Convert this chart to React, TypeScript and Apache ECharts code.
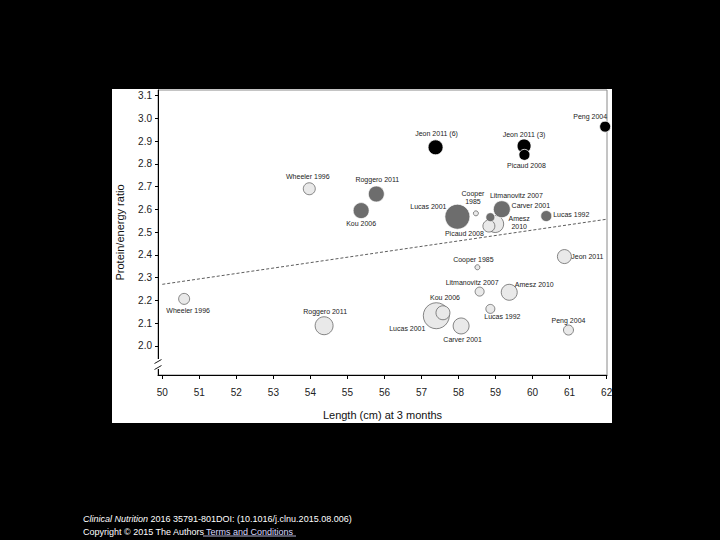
import React, { useEffect, useRef } from "react";
import * as echarts from "echarts";

// ---- tick values ----
const xTicks = [50, 51, 52, 53, 54, 55, 56, 57, 58, 59, 60, 61, 62];
const yTicks = [2.0, 2.1, 2.2, 2.3, 2.4, 2.5, 2.6, 2.7, 2.8, 2.9, 3.0, 3.1];

// ---- black studies ----
const blackStudies = ["Jeon 2011 (6)", "Jeon 2011 (3)", "Picaud 2008", "Peng 2004"];
const blackLength = [57.38, 59.77, 59.78, 61.96];
const blackRatio = [2.873, 2.879, 2.84, 2.964];
const blackSize = [15, 14, 11, 11];

// ---- dark grey studies ----
const darkStudies = ["Lucas 2001", "Carver 2001", "Roggero 2011", "Kou 2006", "Lucas 1992", "Litmanovitz 2007"];
const darkLength = [57.97, 59.17, 55.78, 55.37, 60.37, 58.86];
const darkRatio = [2.568, 2.601, 2.668, 2.595, 2.571, 2.566];
const darkSize = [25, 17, 16, 16, 11, 9];

// ---- light grey studies ----
const lightStudies = [
  "Lucas 2001", "Roggero 2011", "Amesz 2010", "Amesz 2010", "Carver 2001", "Kou 2006", "Jeon 2011",
  "Picaud 2008", "Wheeler 1996", "Wheeler 1996", "Peng 2004", "Lucas 1992", "Litmanovitz 2007",
  "Cooper 1985", "Cooper 1985",
];
const lightLength = [57.4, 54.37, 58.99, 59.37, 58.07, 57.58, 60.86, 58.82, 53.97, 50.59, 60.97, 58.86, 58.57, 58.47, 58.51];
const lightRatio = [2.133, 2.089, 2.536, 2.236, 2.088, 2.146, 2.393, 2.527, 2.691, 2.207, 2.07, 2.163, 2.239, 2.583, 2.346];
const lightSize = [26, 18, 17, 16, 16, 14, 14, 12, 12, 11, 10, 9, 9, 5, 5];

// ---- regression line ----
const trendLength = [50, 62];
const trendRatio = [2.271, 2.557];

// ---- label placement (styling) ----
const blackLabelOffset = [[1, -14], [0, -11], [2, 10.5], [-15, -10]];
const darkLabelOffset = [[-29, -10], [29, -4], [1, -14], [0, 13], [25, -2], [26, -22]];
const lightLabelOffset = [
  [-29, 12.5], [1, -14], [24, -2], [25, -8], [1.5, 13.3], [2, -15.6], [23, 0],
  [-24.5, 7], [-1.5, -12], [4, 12], [0, -10], [12, 8], [-7.5, -9.5], [-3, -16], [-4, -8],
];
const lightLabelWrap = [false, false, true, false, false, false, false, false, false, false, false, false, false, true, false];

const FONT = "'Liberation Sans', Arial, Helvetica, sans-serif";

function buildData(names: string[], xs: number[], ys: number[], sizes: number[], offsets: number[][], wrap?: boolean[]) {
  return names.map((n, i) => ({
    name: n,
    value: [xs[i], ys[i], sizes[i]],
    label: {
      show: true,
      position: "inside",
      offset: offsets[i],
      formatter: wrap && wrap[i] ? n.replace(" ", "\n") : n,
      fontSize: 7,
      lineHeight: 8,
      color: "#222",
      fontFamily: FONT,
    },
  }));
}

export default function App() {
  const ref = useRef<HTMLDivElement>(null);
  useEffect(() => {
    if (!ref.current) return;
    const chart = echarts.init(ref.current, undefined, { renderer: "svg" });
    const option: any = {
      animation: false,
      backgroundColor: "#000",
      grid: { left: 158, top: 90, width: 449, height: 285, show: true, borderColor: "#8a8a8a", borderWidth: 1 },
      xAxis: {
        type: "value",
        min: 49.884,
        max: 62.01,
        name: "Length (cm) at 3 months",
        nameLocation: "middle",
        nameGap: 34,
        nameTextStyle: { fontSize: 11, color: "#111", fontFamily: FONT },
        axisLine: { show: true, lineStyle: { color: "#000", width: 1 } },
        axisTick: { show: true, length: 4, customValues: xTicks, lineStyle: { color: "#000" } },
        axisLabel: { customValues: xTicks, fontSize: 10, color: "#222", margin: 12, fontFamily: FONT },
        splitLine: { show: false },
      },
      yAxis: {
        type: "value",
        min: 1.8725,
        max: 3.125,
        name: "Protein/energy ratio",
        nameLocation: "middle",
        nameGap: 33,
        nameTextStyle: { fontSize: 11, color: "#111", fontFamily: FONT },
        axisLine: { show: true, lineStyle: { color: "#000", width: 1 } },
        axisTick: { show: true, length: 3, customValues: yTicks, lineStyle: { color: "#000" } },
        axisLabel: {
          customValues: yTicks,
          formatter: (v: number) => v.toFixed(1),
          fontSize: 10,
          color: "#222",
          margin: 6,
          fontFamily: FONT,
        },
        splitLine: { show: false },
      },
      graphic: [
        { type: "rect", z: -100, shape: { x: 112, y: 89, width: 500, height: 334 }, style: { fill: "#fff" } },
        { type: "rect", z: 100, shape: { x: 154, y: 359, width: 8, height: 10 }, style: { fill: "#fff" } },
        { type: "line", z: 101, shape: { x1: 154.5, y1: 363.5, x2: 161.5, y2: 359.5 }, style: { stroke: "#000", lineWidth: 0.9 } },
        { type: "line", z: 101, shape: { x1: 154.5, y1: 369.5, x2: 161.5, y2: 365.5 }, style: { stroke: "#000", lineWidth: 0.9 } },
        {
          type: "text",
          z: 100,
          x: 83,
          y: 519,
          style: {
            text: "{i|Clinical Nutrition} 2016 35791-801DOI: (10.1016/j.clnu.2015.08.006)",
            fill: "#fff",
            fontSize: 9,
            fontFamily: FONT,
            verticalAlign: "middle",
            rich: { i: { fontStyle: "italic", fontSize: 9, fill: "#fff", fontFamily: FONT } },
          },
        },
        {
          type: "text",
          z: 100,
          x: 83,
          y: 531.5,
          style: { text: "Copyright © 2015 The Authors", fill: "#fff", fontSize: 9, fontFamily: FONT, verticalAlign: "middle" },
        },
        {
          type: "text",
          z: 100,
          x: 206,
          y: 531.5,
          style: { text: "Terms and Conditions", fill: "#d8d8ff", fontSize: 9, fontFamily: FONT, verticalAlign: "middle" },
        },
        { type: "line", z: 100, shape: { x1: 203, y1: 536, x2: 296, y2: 536 }, style: { stroke: "#d8d8ff", lineWidth: 0.8 } },
      ],
      series: [
        {
          type: "line",
          data: trendLength.map((x, i) => [x, trendRatio[i]]),
          symbol: "none",
          lineStyle: { color: "#333", width: 0.8, type: [3, 2] },
          z: 1,
        },
        {
          type: "scatter",
          data: buildData(lightStudies, lightLength, lightRatio, lightSize, lightLabelOffset, lightLabelWrap),
          symbolSize: (v: number[]) => v[2],
          itemStyle: { color: "#e9e9e9", borderColor: "#555", borderWidth: 0.7, opacity: 1 },
          z: 2,
        },
        {
          type: "scatter",
          data: buildData(darkStudies, darkLength, darkRatio, darkSize, darkLabelOffset),
          symbolSize: (v: number[]) => v[2],
          itemStyle: { color: "#6d6d6d", borderColor: "#fff", borderWidth: 0.7, opacity: 1 },
          z: 3,
        },
        {
          type: "scatter",
          data: buildData(blackStudies, blackLength, blackRatio, blackSize, blackLabelOffset),
          symbolSize: (v: number[]) => v[2],
          itemStyle: { color: "#000", borderColor: "#fff", borderWidth: 0.8, opacity: 1 },
          z: 4,
        },
      ],
    };
    chart.setOption(option);
    return () => chart.dispose();
  }, []);
  return (
    <div
      ref={ref}
      style={{ position: "absolute", left: 0, top: 0, width: 720, height: 540, background: "#000" }}
    />
  );
}
